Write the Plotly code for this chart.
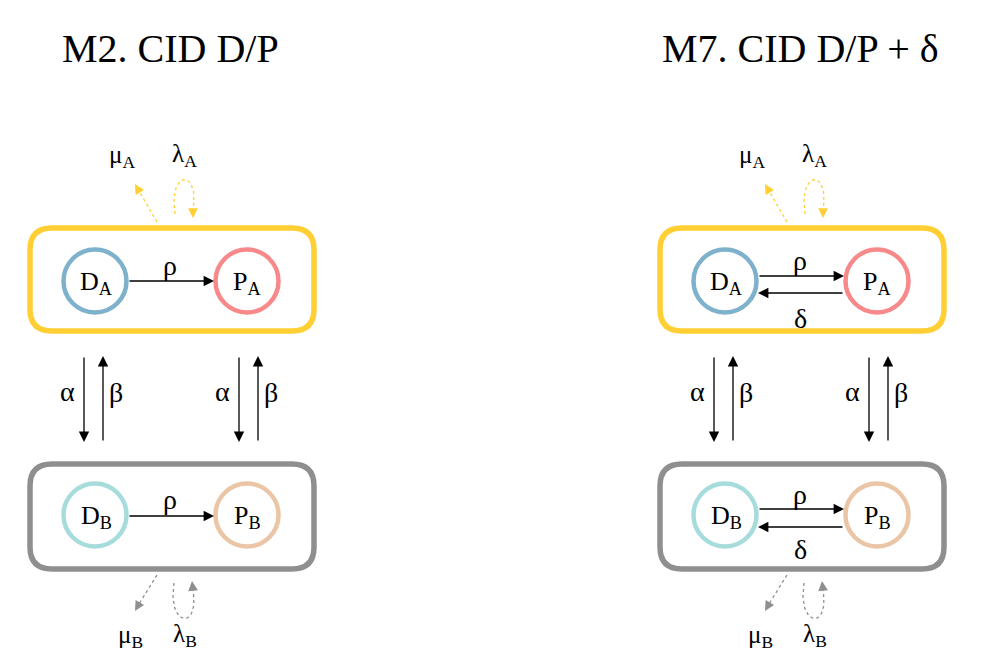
import plotly.graph_objects as go

# ---- data ----
panel_titles = ["M2. CID D/P", "M7. CID D/P + δ"]
panel_has_delta = [False, True]
state_labels_A = ["D<sub>A</sub>", "P<sub>A</sub>"]
state_labels_B = ["D<sub>B</sub>", "P<sub>B</sub>"]
rate_within = ["ρ", "δ"]
rate_between = ["α", "β"]
rate_A = ["μ<sub>A</sub>", "λ<sub>A</sub>"]
rate_B = ["μ<sub>B</sub>", "λ<sub>B</sub>"]

# ---- styles ----
YELLOW = "#FFCF33"
GRAY = "#8F8F8F"
C_DA = "#7EB1CB"
C_PA = "#F7898A"
C_DB = "#A7DCDC"
C_PB = "#EAC6A6"
SERIF = "Liberation Serif, DejaVu Serif, serif"

W, H = 988, 668
fig = go.Figure()
shapes = []
ann = []


def rrect(x0, y0, x1, y1, r, color):
    p = (f"M {x0+r},{y0} L {x1-r},{y0} Q {x1},{y0} {x1},{y0+r} "
         f"L {x1},{y1-r} Q {x1},{y1} {x1-r},{y1} L {x0+r},{y1} "
         f"Q {x0},{y1} {x0},{y1-r} L {x0},{y0+r} Q {x0},{y0} {x0+r},{y0} Z")
    shapes.append(dict(type="path", path=p, xref="x", yref="y",
                       line=dict(color=color, width=5.5), layer="below"))


def circle(cx, cy, r, color):
    shapes.append(dict(type="circle", xref="x", yref="y", x0=cx-r, x1=cx+r,
                       y0=cy-r, y1=cy+r, line=dict(color=color, width=4.5),
                       fillcolor="rgba(0,0,0,0)", layer="below"))


def arrow(x0, y0, x1, y1, color="black", width=1.3, size=1.6):
    ann.append(dict(x=x1, y=y1, ax=x0, ay=y0, xref="x", yref="y",
                    axref="x", ayref="y", text="", showarrow=True,
                    arrowhead=2, arrowsize=size, arrowwidth=width,
                    arrowcolor=color, standoff=0, startstandoff=0))


def text(x, y, s, size=22):
    ann.append(dict(x=x, y=y, xref="x", yref="y", text=s, showarrow=False,
                    font=dict(family=SERIF, size=size, color="black"),
                    xanchor="center", yanchor="middle"))


def dotted(xs, ys, color):
    fig.add_trace(go.Scatter(x=xs, y=ys, mode="lines", hoverinfo="skip",
                             line=dict(color=color, width=1.3, dash="dot"),
                             showlegend=False))


def bez(p0, p1, p2, p3, n=30):
    xs, ys = [], []
    for i in range(n + 1):
        t = i / n
        a = (1-t)**3; b = 3*(1-t)**2*t; c = 3*(1-t)*t**2; d = t**3
        xs.append(a*p0[0]+b*p1[0]+c*p2[0]+d*p3[0])
        ys.append(a*p0[1]+b*p1[1]+c*p2[1]+d*p3[1])
    return xs, ys


for k, title in enumerate(panel_titles):
    dx = 630 * k
    delta = panel_has_delta[k]
    text(170 + dx, 48, title, 40)

    # boxes
    rrect(30 + dx, 228, 314 + dx, 331, 22, YELLOW)
    rrect(30 + dx, 464, 314 + dx, 569, 22, GRAY)

    # circles
    circle(95 + dx, 281, 31.5, C_DA)
    circle(247 + dx, 281, 31.5, C_PA)
    circle(95 + dx, 515, 31.5, C_DB)
    circle(247 + dx, 515, 31.5, C_PB)
    text(96 + dx, 283, state_labels_A[0], 26)
    text(247 + dx, 283, state_labels_A[1], 26)
    text(96 + dx, 517, state_labels_B[0], 26)
    text(247 + dx, 517, state_labels_B[1], 26)

    # within-box transitions
    if delta:
        arrow(128 + dx, 276, 214 + dx, 276)
        arrow(214 + dx, 293, 128 + dx, 293)
        text(170 + dx, 260, rate_within[0], 28)
        text(170 + dx, 318, rate_within[1], 28)
        arrow(128 + dx, 509, 214 + dx, 509)
        arrow(214 + dx, 527, 128 + dx, 527)
        text(170 + dx, 494, rate_within[0], 28)
        text(170 + dx, 549, rate_within[1], 28)
    else:
        arrow(128 + dx, 281, 214 + dx, 281)
        text(170 + dx, 265, rate_within[0], 28)
        arrow(128 + dx, 516, 214 + dx, 516)
        text(170 + dx, 499, rate_within[0], 28)

    # between-box transitions
    for bx in (84, 239):
        arrow(bx + dx, 356, bx + dx, 442)
        arrow(bx + 19 + dx, 442, bx + 19 + dx, 356)
        text(bx - 17 + dx, 391, rate_between[0], 28)
        text(bx + 32 + dx, 392, rate_between[1], 28)

    # top (A) loss / gain dotted arrows
    dotted([157 + dx, 139 + dx], [222, 191], YELLOW)
    arrow(139 + dx, 191, 135 + dx, 184, YELLOW, 1.3, 1.5)
    xs, ys = bez((175 + dx, 214), (168 + dx, 170), (200 + dx, 168), (193 + dx, 210))
    dotted(xs, ys, YELLOW)
    arrow(193 + dx, 210, 193 + dx, 218, YELLOW, 1.3, 1.5)
    text(122 + dx, 156, rate_A[0], 25)
    text(184 + dx, 155, rate_A[1], 25)

    # bottom (B) loss / gain dotted arrows
    dotted([157 + dx, 139 + dx], [575, 604], GRAY)
    arrow(139 + dx, 604, 135 + dx, 611, GRAY, 1.3, 1.5)
    xs, ys = bez((174 + dx, 583), (167 + dx, 628), (200 + dx, 630), (193 + dx, 590))
    dotted(xs, ys, GRAY)
    arrow(193 + dx, 590, 192 + dx, 581, GRAY, 1.3, 1.5)
    text(130 + dx, 636, rate_B[0], 25)
    text(185 + dx, 635, rate_B[1], 25)

fig.update_layout(
    width=W, height=H, margin=dict(l=0, r=0, t=0, b=0),
    paper_bgcolor="white", plot_bgcolor="white",
    xaxis=dict(range=[0, W], visible=False, fixedrange=True),
    yaxis=dict(range=[H, 0], visible=False, fixedrange=True),
    shapes=shapes, annotations=ann, showlegend=False,
)
fig.write_html("out.html", config={"displayModeBar": False},
               post_script="document.body.style.margin='0';"
                           "document.body.style.overflow='hidden';")
